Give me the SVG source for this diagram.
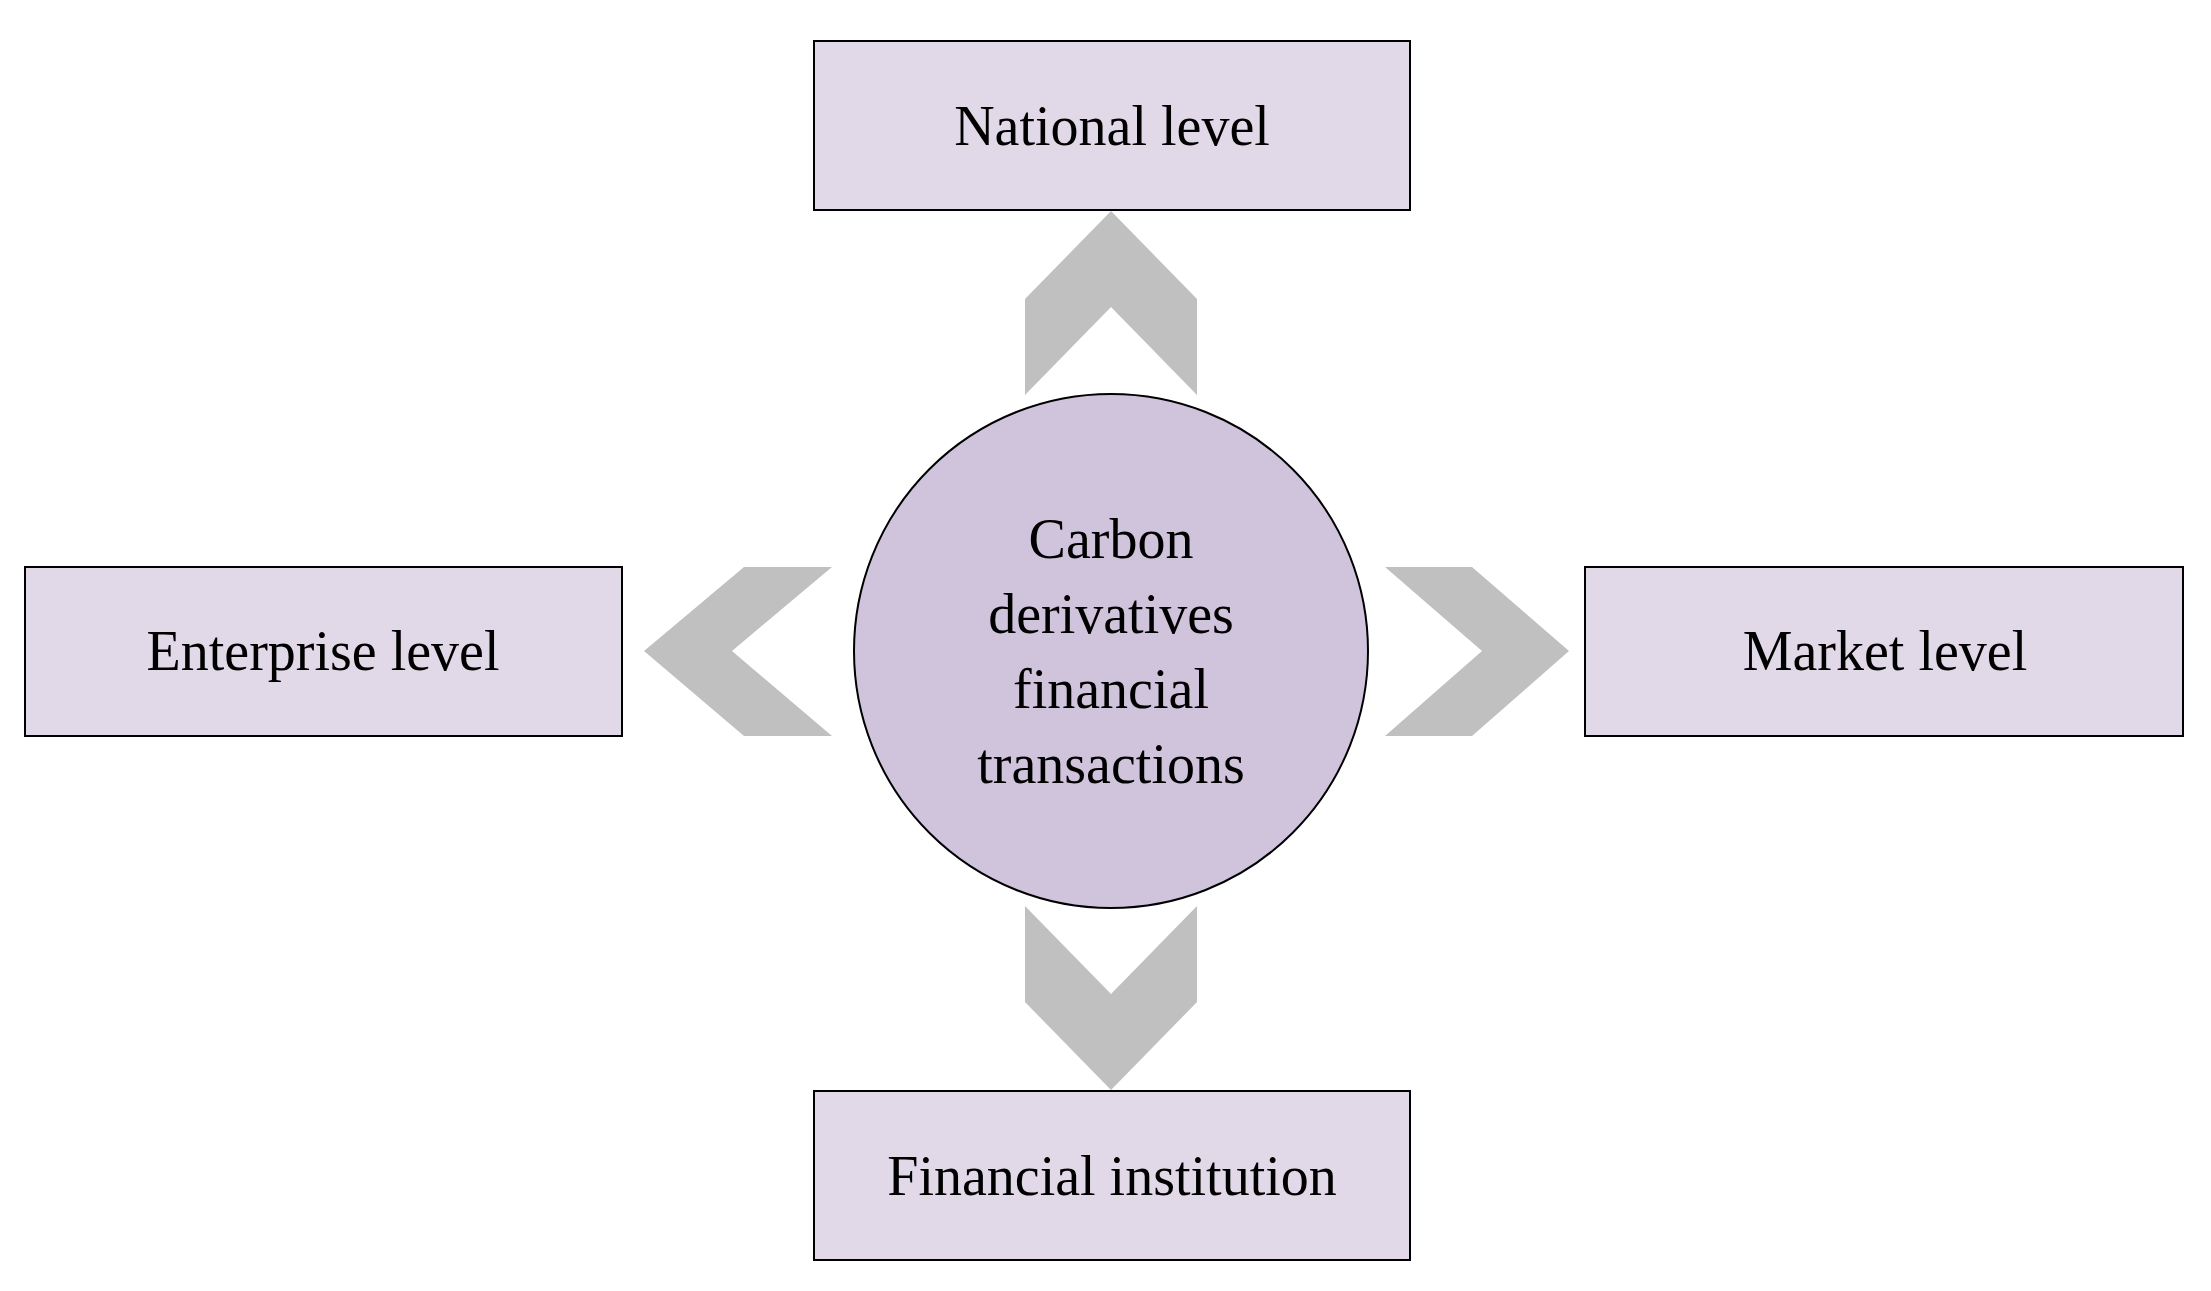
<svg xmlns="http://www.w3.org/2000/svg" width="2211" height="1291" viewBox="0 0 2211 1291">
<style>
.box{fill:#e1d8e8;stroke:#000;stroke-width:2}
.c{fill:#d0c3dc;stroke:#000;stroke-width:2}
.t{font-family:"Liberation Serif",serif;font-size:56px;text-anchor:middle;fill:#000}
.ar{fill:#c0c0c0}
</style>
<rect width="2211" height="1291" fill="#fff"/>
<g id="connectors">
<polygon class="ar" points="1111,211 1197,299 1197,395 1111,307 1025,395 1025,299"/>
<polygon class="ar" points="1025,906 1111,994 1197,906 1197,1002 1111,1090 1025,1002"/>
<polygon class="ar" points="644,651 744,567 832,567 732,651 832,736 744,736"/>
<polygon class="ar" points="1385,567 1472,567 1569,651 1472,736 1385,736 1482,651"/>
</g>
<g id="center"><circle class="c" cx="1111" cy="651" r="257"/>
<text class="t" x="1111" y="558">Carbon</text><text class="t" x="1111" y="633">derivatives</text><text class="t" x="1111" y="708">financial</text><text class="t" x="1111" y="783">transactions</text></g>
<g id="national"><rect class="box" x="814" y="41" width="596" height="169"/><text class="t" x="1112" y="145">National level</text></g>
<g id="enterprise"><rect class="box" x="25" y="567" width="597" height="169"/><text class="t" x="323" y="670">Enterprise level</text></g>
<g id="market"><rect class="box" x="1585" y="567" width="598" height="169"/><text class="t" x="1885" y="670">Market level</text></g>
<g id="financial"><rect class="box" x="814" y="1091" width="596" height="169"/><text class="t" x="1112" y="1195">Financial institution</text></g>
</svg>
